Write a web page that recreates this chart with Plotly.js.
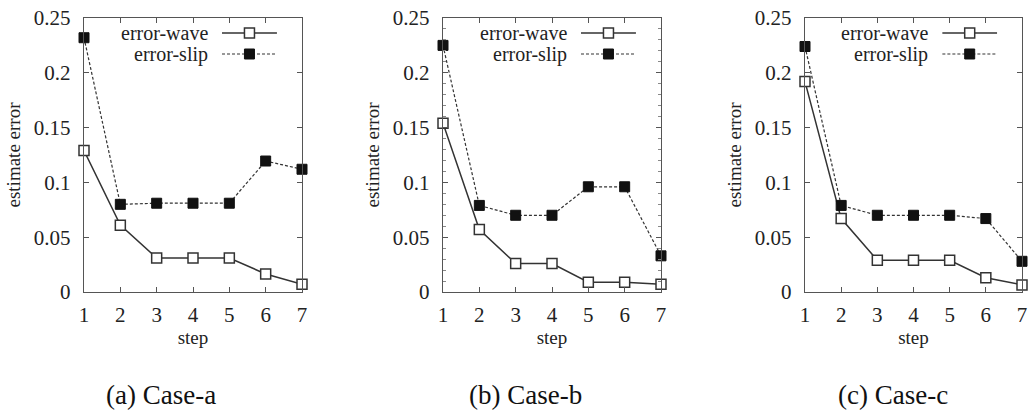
<!DOCTYPE html>
<html>
<head>
<meta charset="utf-8">
<script src="https://cdn.plot.ly/plotly-3.0.1.min.js"></script>
<style>html,body{margin:0;padding:0;background:#fff;}#chart{width:1032px;height:410px;}</style>
</head>
<body>
<div id="chart"></div>
<script>
// ---- data ----
var steps = [1, 2, 3, 4, 5, 6, 7];
var waveA = [0.129, 0.061, 0.031, 0.031, 0.031, 0.0165, 0.007];
var slipA = [0.232, 0.080, 0.081, 0.081, 0.081, 0.1195, 0.112];
var waveB = [0.154, 0.057, 0.026, 0.026, 0.009, 0.009, 0.007];
var slipB = [0.225, 0.079, 0.070, 0.070, 0.096, 0.096, 0.033];
var waveC = [0.192, 0.067, 0.029, 0.029, 0.029, 0.013, 0.0065];
var slipC = [0.224, 0.079, 0.070, 0.070, 0.070, 0.067, 0.028];
var seriesNames = ["error-wave", "error-slip"];
var captions = ["(a) Case-a", "(b) Case-b", "(c) Case-c"];
var yTickVals = [0, 0.05, 0.1, 0.15, 0.2, 0.25];
var yTickText = ["0", "0.05", "0.1", "0.15", "0.2", "0.25"];
var xTitle = "step";
var yTitle = "estimate error";

// ---- layout geometry (pixels) ----
var W = 1032, H = 410;
var panelsPx = [[84, 302], [443, 661], [805, 1022]];
var topPx = 18, botPx = 292;
var captionX = [161, 525, 893];
var captionY = 395;

var FONT = "Liberation Serif";
var INK = "#222";
var AX = "#555";

var waves = [waveA, waveB, waveC];
var slips = [slipA, slipB, slipC];

var traces = [];
var layout = {
  width: W, height: H,
  margin: {l: 0, r: 0, t: 0, b: 0},
  paper_bgcolor: "#fff", plot_bgcolor: "#fff",
  showlegend: false,
  font: {family: FONT, color: INK, size: 20},
  annotations: [], shapes: []
};

var yDom = [(H - botPx) / H, (H - topPx) / H];

for (var i = 0; i < 3; i++) {
  var sfx = i === 0 ? "" : String(i + 1);
  var xa = "x" + sfx, ya = "y" + sfx;
  traces.push({
    x: steps, y: waves[i], xaxis: xa, yaxis: ya, type: "scatter", mode: "lines+markers",
    name: seriesNames[0], cliponaxis: false,
    line: {color: "#333", width: 1.5},
    marker: {symbol: "square", size: 10, color: "#fff", line: {color: "#333", width: 1.5}}
  });
  traces.push({
    x: steps, y: slips[i], xaxis: xa, yaxis: ya, type: "scatter", mode: "lines+markers",
    name: seriesNames[1], cliponaxis: false,
    line: {color: "#333", width: 1.2, dash: "3px,2px"},
    marker: {symbol: "square", size: 10, color: "#111", line: {color: "#111", width: 1}}
  });

  var px = panelsPx[i];
  var xDom = [px[0] / W, px[1] / W];
  layout["xaxis" + sfx] = {
    domain: xDom, anchor: ya, range: [1, 7],
    tickmode: "array", tickvals: steps,
    ticks: "inside", ticklen: 5, tickwidth: 1, tickcolor: AX,
    showline: true, linecolor: AX, linewidth: 1.2, mirror: "ticks",
    showgrid: false, zeroline: false, automargin: false,
    tickfont: {family: FONT, size: 21, color: INK},
    ticklabelstandoff: 4,
    title: {text: xTitle, font: {family: FONT, size: 19, color: INK}, standoff: 4}
  };
  var yax = {
    domain: yDom, anchor: xa, range: [0, 0.25],
    tickmode: "array", tickvals: yTickVals, ticktext: yTickText,
    ticks: "inside", ticklen: 5, tickwidth: 1, tickcolor: AX,
    showline: true, linecolor: AX, linewidth: 1.2, mirror: "ticks",
    showgrid: false, zeroline: false, automargin: false,
    tickfont: {family: FONT, size: 21, color: INK},
    ticklabelstandoff: 8,
    title: {text: yTitle, font: {family: FONT, size: 19, color: INK}, standoff: 8}
  };
  if (i === 1) {
    yax.minor = {tickmode: "linear", tick0: 0, dtick: 0.01, ticks: "inside", ticklen: 3, tickcolor: "#888", showgrid: false};
  }
  layout["yaxis" + sfx] = yax;

  // custom legend (text left, sample right)
  var pw = px[1] - px[0];
  var textRight = px[0] + 0.578 * pw;
  var lx0 = px[0] + 0.633 * pw, lx1 = px[0] + 0.885 * pw, mx = (lx0 + lx1) / 2;
  var rows = [33, 54];
  for (var r = 0; r < 2; r++) {
    var yy = (H - rows[r]) / H;
    layout.annotations.push({
      xref: "paper", yref: "paper", x: textRight / W, y: yy, xanchor: "right", yanchor: "middle",
      text: seriesNames[r], showarrow: false, font: {family: FONT, size: 20, color: INK}
    });
    layout.shapes.push({
      type: "line", xref: "paper", yref: "paper", x0: lx0 / W, x1: lx1 / W, y0: yy, y1: yy,
      line: r === 0 ? {color: "#333", width: 1.5} : {color: "#333", width: 1.2, dash: "3px,2px"}
    });
    layout.shapes.push({
      type: "rect", xref: "paper", yref: "paper", xsizemode: "pixel", ysizemode: "pixel",
      xanchor: mx / W, yanchor: yy, x0: -5, x1: 5, y0: -5, y1: 5,
      fillcolor: r === 0 ? "#fff" : "#111",
      line: {color: r === 0 ? "#333" : "#111", width: r === 0 ? 1.5 : 1}
    });
  }
  layout.annotations.push({
    xref: "paper", yref: "paper", x: captionX[i] / W, y: (H - captionY) / H,
    xanchor: "center", yanchor: "middle", showarrow: false,
    text: captions[i], font: {family: FONT, size: 27, color: "#111"}
  });
}

Plotly.newPlot("chart", traces, layout, {displayModeBar: false, staticPlot: true});
</script>
</body>
</html>
